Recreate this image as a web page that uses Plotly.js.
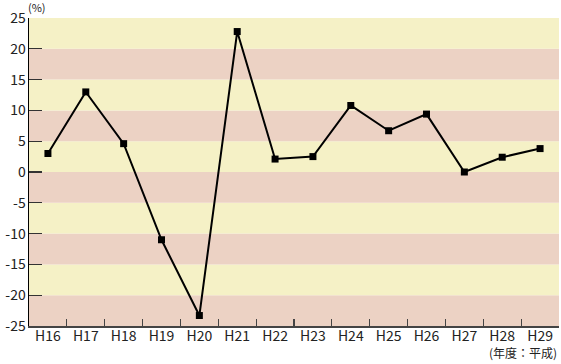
<!DOCTYPE html>
<html>
<head>
<meta charset="utf-8">
<script src="https://cdn.plot.ly/plotly-3.0.1.min.js"></script>
<style>html,body{margin:0;padding:0;background:#fff;}#chart{width:561px;height:364px;}</style>
</head>
<body>
<div id="chart"></div>
<script>
var categories = ["H16","H17","H18","H19","H20","H21","H22","H23","H24","H25","H26","H27","H28","H29"];
var values = [3.0, 13.0, 4.6, -11.0, -23.3, 22.8, 2.1, 2.5, 10.8, 6.7, 9.4, 0.0, 2.4, 3.8];
var yTicks = [-25,-20,-15,-10,-5,0,5,10,15,20,25];
var bandColors = ["#ecd2c4", "#f5f1c6"];

var font = '"Noto Sans CJK JP", "Noto Sans", sans-serif';

var shapes = [];
for (var i = 0; i < yTicks.length - 1; i++) {
  shapes.push({
    type: 'rect', xref: 'paper', yref: 'y', layer: 'below',
    x0: 0, x1: 1, y0: yTicks[i], y1: yTicks[i+1],
    fillcolor: bandColors[i % 2], line: {width: 0}
  });
}

var trace = {
  x: categories, y: values, type: 'scatter', mode: 'lines+markers',
  line: {color: '#000', width: 2},
  marker: {symbol: 'square', size: 7, color: '#000'},
  hoverinfo: 'none'
};

var layout = {
  width: 561, height: 364,
  margin: {l: 29, r: 2, t: 18, b: 38},
  paper_bgcolor: '#fff', plot_bgcolor: 'rgba(0,0,0,0)',
  showlegend: false,
  font: {family: font, size: 14, color: '#222'},
  xaxis: {
    type: 'category', tickson: 'boundaries', ticks: 'inside', ticklen: 7,
    tickcolor: '#444', tickwidth: 1.2,
    showgrid: false, zeroline: false,
    showline: true, linecolor: '#444', linewidth: 1.5,
    range: [-0.5, categories.length - 0.5],
    ticklabelstandoff: -3,
    tickfont: {family: font, size: 14, color: '#222'}
  },
  yaxis: {
    range: [-25, 25], tickvals: yTicks, ticktext: yTicks.map(String),
    ticks: 'inside', ticklen: 13, tickcolor: '#333', tickwidth: 1.2,
    showgrid: false, zeroline: false,
    showline: true, linecolor: '#000', linewidth: 1.5,
    ticklabelstandoff: -1,
    tickfont: {family: font, size: 14, color: '#222'}
  },
  shapes: shapes,
  annotations: [
    {text: '(%)', xref: 'paper', yref: 'paper', x: 0, y: 1, xanchor: 'left', yanchor: 'bottom', xshift: -3, yshift: 1,
     showarrow: false, font: {family: font, size: 11, color: '#222'}},
    {text: '(年度：平成)', xref: 'paper', yref: 'paper', x: 1, y: 0, xanchor: 'right', yanchor: 'top', yshift: -16,
     showarrow: false, font: {family: font, size: 12, color: '#222'}}
  ]
};

Plotly.newPlot('chart', [trace], layout, {staticPlot: true, displayModeBar: false});
</script>
</body>
</html>
